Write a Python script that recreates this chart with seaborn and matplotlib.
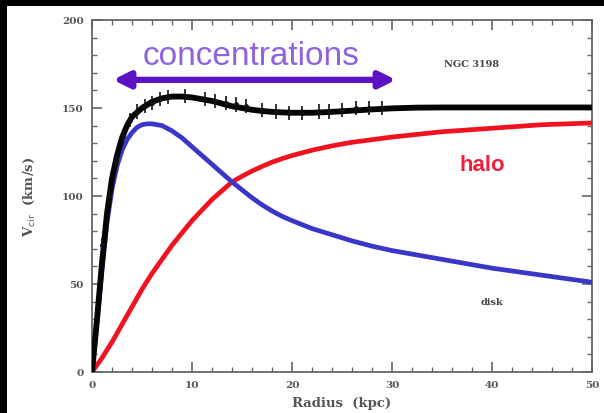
import numpy as np
import pandas as pd
import matplotlib
matplotlib.use("Agg")
import matplotlib.pyplot as plt
from matplotlib.patches import Rectangle
from matplotlib.ticker import MultipleLocator
import seaborn as sns

# Rotation curve of NGC 3198 (km/s vs kpc): total fit, disk and halo components
r_total = [0, 0.5, 1, 1.5, 2, 2.5, 3, 3.5, 4, 5, 6, 7, 8, 9, 10, 11, 12, 13, 14, 15,
           16, 17, 18, 19, 20, 22, 24, 26, 28, 30, 32.5, 35, 40, 45, 50]
v_total = [0, 30, 62, 90, 110, 123, 133, 140, 145, 150, 153.5, 155.5, 156.5, 156.5, 156,
           155, 154, 152.5, 151, 150, 149, 148.3, 147.8, 147.5, 147.3, 147.3, 147.8, 148.5,
           149.2, 149.8, 150.2, 150.3, 150.3, 150.3, 150.3]

r_disk = [0, 0.5, 1, 1.5, 2, 2.5, 3, 3.5, 4, 4.5, 5, 5.5, 6, 7, 8, 9, 10, 11, 12, 13, 14,
          15, 16, 17, 18, 19, 20, 22, 24, 26, 28, 30, 32.5, 35, 37.5, 40, 42.5, 45, 47.5, 50]
v_disk = [0, 28, 58, 85, 104, 117, 126, 132, 136, 139, 140.5, 141, 141, 140, 137, 133, 128,
          123, 118, 113, 108, 103.5, 99, 95, 91.5, 88.5, 86, 81.5, 78, 74.5, 71.5, 69, 66.5,
          64, 61.5, 59, 57, 55, 53, 51]

r_halo = [0, 1, 2, 3, 4, 5, 6, 7, 8, 9, 10, 11, 12, 13, 14, 15, 16, 17, 18, 19, 20, 22, 24,
          26, 28, 30, 32.5, 35, 37.5, 40, 42.5, 45, 47.5, 50]
v_halo = [0, 8, 17, 27, 37, 47, 56, 64, 72, 79, 86, 92, 98, 103, 108, 111.2, 114.2, 116.8,
          119.2, 121.2, 123, 126, 128.5, 130.5, 132, 133.5, 135, 136.5, 137.5, 138.5, 139.5,
          140.5, 141, 141.5]

# Observed HI velocities with error bars
r_obs = [1.0, 1.7, 2.4, 3.1, 3.8, 4.5, 5.3, 6.0, 6.8, 7.6, 9.3, 11.3, 12.3, 13.4,
         14.4, 15.4, 17.0, 18.4, 19.7, 21.0, 22.7, 23.7, 25.0, 26.4, 27.7, 29.0]
v_obs = [72, 100, 120, 134, 143, 148, 151, 153, 155, 156, 157, 155, 154, 153,
         152, 151, 149, 148, 147, 147, 148, 148, 149, 150, 150, 150]
v_err = [4] * len(r_obs)

x_ticks = [0, 10, 20, 30, 40, 50]
y_ticks = [0, 50, 100, 150, 200]

curves = pd.concat([
    pd.DataFrame({"r": r_total, "v": v_total, "comp": "total"}),
    pd.DataFrame({"r": r_disk, "v": v_disk, "comp": "disk"}),
    pd.DataFrame({"r": r_halo, "v": v_halo, "comp": "halo"}),
], ignore_index=True)

sns.set_theme(style="ticks")
plt.rcParams["font.family"] = ["DejaVu Serif"]

fig = plt.figure(figsize=(6.04, 4.14), dpi=100, facecolor="white")
ax = fig.add_axes([92 / 604, 1 - 373 / 414, 500 / 604, 352 / 414])

palette = {"total": "#050505", "disk": "#3a36c8", "halo": "#f0121e"}
widths = {"total": 4.2, "disk": 3.4, "halo": 3.4}
for comp in ["halo", "disk", "total"]:
    sns.lineplot(data=curves[curves["comp"] == comp], x="r", y="v", color=palette[comp],
                 linewidth=widths[comp], ax=ax, legend=False, zorder=3)

ax.errorbar(r_obs, v_obs, yerr=v_err, fmt="o", color="#111111", ms=2.5,
            elinewidth=1.2, capsize=0, zorder=4)

ax.set_xlim(0, 50)
ax.set_ylim(0, 200)
ax.set_xticks(x_ticks)
ax.set_yticks(y_ticks)
ax.xaxis.set_minor_locator(MultipleLocator(2))
ax.yaxis.set_minor_locator(MultipleLocator(10))
ax.tick_params(which="both", direction="in", top=True, right=True, colors="#666666")
ax.tick_params(which="major", length=7, width=1.2, labelsize=7.5, labelcolor="#555555", pad=6)
ax.tick_params(which="minor", length=3.5, width=1.0)
for lbl in ax.get_xticklabels() + ax.get_yticklabels():
    lbl.set_fontweight("bold")
for s in ax.spines.values():
    s.set_color("#666666")
    s.set_linewidth(1.3)

ax.set_xlabel("Radius  (kpc)", fontsize=9.5, color="#555555", fontweight="bold", labelpad=5)
ax.set_ylabel(r"V$_{\rm cir}$  (km/s)", fontsize=9.5, color="#555555", fontweight="bold")
ax.yaxis.set_label_coords(-0.11, 0.5)

# Annotations
ax.annotate("", xy=(2.1, 166), xytext=(30.4, 166),
            arrowprops=dict(arrowstyle="<|-|>", color="#5a12c2", lw=4.5,
                            mutation_scale=24, shrinkA=0, shrinkB=0))
ax.text(15.9, 180, "concentrations", color="#8f62e0", fontsize=24,
        family=["Liberation Sans", "DejaVu Sans"], ha="center", va="center")
ax.text(38.0, 175.5, "NGC 3198", color="#444444", fontsize=7, fontweight="bold",
        ha="center", va="center")
ax.text(39.0, 118, "halo", color="#f0203a", fontsize=16, fontweight="bold",
        family=["Liberation Sans", "DejaVu Sans"], ha="center", va="center")
ax.text(40.0, 40, "disk", color="#444444", fontsize=7, fontweight="bold",
        ha="center", va="center")

# Dark frame bands along the top and left edges
fig.patches.append(Rectangle((0, 1 - 7 / 414), 1, 7 / 414, transform=fig.transFigure,
                             facecolor="black", edgecolor="none", linewidth=0, zorder=10))
fig.patches.append(Rectangle((0, 0), 7 / 604, 1, transform=fig.transFigure,
                             facecolor="black", edgecolor="none", linewidth=0, zorder=10))

fig.savefig("out.png", dpi=100, facecolor="white")
